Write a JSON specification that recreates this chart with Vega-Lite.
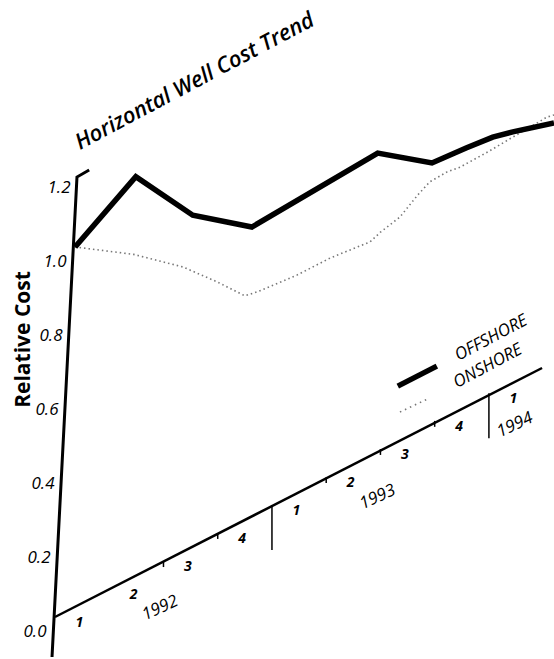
{
  "$schema": "https://vega.github.io/schema/vega-lite/v6.json",
  "width": 499,
  "height": 444,
  "autosize": {"type": "none"},
  "padding": {"left": 55, "top": 173, "right": 0, "bottom": 42},
  "background": "white",
  "config": {"view": {"stroke": null}, "font": "Open Sans"},
  "datasets": {
    "offshore": [
      {"quarter": 0.37, "cost": 1.0},
      {"quarter": 1.49, "cost": 1.19},
      {"quarter": 2.54, "cost": 1.086},
      {"quarter": 3.63, "cost": 1.054},
      {"quarter": 5.95, "cost": 1.254},
      {"quarter": 6.95, "cost": 1.227},
      {"quarter": 7.59, "cost": 1.268},
      {"quarter": 8.07, "cost": 1.297},
      {"quarter": 8.44, "cost": 1.311},
      {"quarter": 9.2, "cost": 1.335}
    ],
    "onshore": [
      {"quarter": 0.37, "cost": 1.0},
      {"quarter": 1.45, "cost": 0.98},
      {"quarter": 2.36, "cost": 0.946},
      {"quarter": 3.0, "cost": 0.905},
      {"quarter": 3.5, "cost": 0.868},
      {"quarter": 3.75, "cost": 0.88},
      {"quarter": 4.46, "cost": 0.924},
      {"quarter": 5.07, "cost": 0.97},
      {"quarter": 5.81, "cost": 1.014},
      {"quarter": 6.0, "cost": 1.04},
      {"quarter": 6.36, "cost": 1.081},
      {"quarter": 6.69, "cost": 1.141},
      {"quarter": 6.91, "cost": 1.176},
      {"quarter": 7.23, "cost": 1.203},
      {"quarter": 7.47, "cost": 1.216},
      {"quarter": 7.98, "cost": 1.257},
      {"quarter": 8.44, "cost": 1.297},
      {"quarter": 9.07, "cost": 1.351},
      {"quarter": 9.2, "cost": 1.357}
    ],
    "titleText": [
      {"quarter": 0.46, "cost": 1.262, "label": "Horizontal Well Cost Trend"}
    ],
    "yAxisLine": [
      {"quarter": -0.055, "cost": -0.108},
      {"quarter": 0.405, "cost": 1.189},
      {"quarter": 0.63, "cost": 1.208}
    ],
    "timeAxisLine": [
      {"quarter": 0, "cost": 0},
      {"quarter": 8.98, "cost": 0.673}
    ],
    "timeTicks": [
      {"quarter": 2, "cost": 0.151, "cost2": 0.135},
      {"quarter": 3, "cost": 0.227, "cost2": 0.211},
      {"quarter": 4, "cost": 0.303, "cost2": 0.181},
      {"quarter": 5, "cost": 0.378, "cost2": 0.362},
      {"quarter": 6, "cost": 0.454, "cost2": 0.438},
      {"quarter": 7, "cost": 0.53, "cost2": 0.514},
      {"quarter": 8, "cost": 0.605, "cost2": 0.483}
    ],
    "quarterLabels": [
      {"quarter": 0.45, "cost": -0.017, "label": "1"},
      {"quarter": 1.45, "cost": 0.059, "label": "2"},
      {"quarter": 2.45, "cost": 0.134, "label": "3"},
      {"quarter": 3.45, "cost": 0.21, "label": "4"},
      {"quarter": 4.45, "cost": 0.286, "label": "1"},
      {"quarter": 5.45, "cost": 0.361, "label": "2"},
      {"quarter": 6.45, "cost": 0.437, "label": "3"},
      {"quarter": 7.45, "cost": 0.513, "label": "4"},
      {"quarter": 8.45, "cost": 0.588, "label": "1"}
    ],
    "yearLabels": [
      {"quarter": 1.94, "cost": 0.024, "label": "1992"},
      {"quarter": 5.95, "cost": 0.324, "label": "1993"},
      {"quarter": 8.48, "cost": 0.519, "label": "1994"}
    ],
    "keyOffshore": [
      {"quarter": 6.32, "cost": 0.624},
      {"quarter": 7.04, "cost": 0.678}
    ],
    "keyOnshore": [
      {"quarter": 6.36, "cost": 0.554},
      {"quarter": 6.91, "cost": 0.592}
    ],
    "keyLabels": [
      {"quarter": 8.04, "cost": 0.754, "label": "OFFSHORE"},
      {"quarter": 7.98, "cost": 0.678, "label": "ONSHORE"}
    ]
  },
  "encoding": {
    "x": {
      "field": "quarter",
      "type": "quantitative",
      "scale": {"domain": [0, 9.2], "zero": false, "nice": false},
      "axis": null
    },
    "y": {
      "field": "cost",
      "type": "quantitative",
      "scale": {"domain": [0, 1.2], "nice": false},
      "axis": {
        "title": "Relative Cost",
        "titleFont": "Open Sans",
        "titleFontSize": 21,
        "titleFontWeight": "bold",
        "titleColor": "black",
        "titleX": -22,
        "titleY": 166,
        "domain": false,
        "ticks": false,
        "grid": false,
        "values": [0, 0.2, 0.4, 0.6, 0.8, 1.0, 1.2],
        "format": ".1f",
        "labelFont": "Open Sans",
        "labelFontStyle": "italic",
        "labelFontSize": 17,
        "labelColor": "black",
        "labelPadding": {
          "condition": [
            {"test": "datum.value > 1.1", "value": -15},
            {"test": "datum.value > 0.9", "value": -11},
            {"test": "datum.value > 0.7", "value": -7},
            {"test": "datum.value > 0.5", "value": -3},
            {"test": "datum.value > 0.3", "value": 1},
            {"test": "datum.value > 0.1", "value": 5}
          ],
          "value": 9
        },
        "labelOffset": 14,
        "labelBaseline": "middle",
        "labelBound": false,
        "labelOverlap": false,
        "labelFlush": false
      }
    }
  },
  "layer": [
    {
      "data": {"name": "yAxisLine"},
      "mark": {"type": "line", "color": "black", "strokeWidth": 3},
      "encoding": {}
    },
    {
      "data": {"name": "timeAxisLine"},
      "mark": {"type": "line", "color": "black", "strokeWidth": 2.5},
      "encoding": {}
    },
    {
      "data": {"name": "timeTicks"},
      "mark": {"type": "rule", "color": "black", "strokeWidth": 1.5},
      "encoding": {"y2": {"field": "cost2"}}
    },
    {
      "data": {"name": "onshore"},
      "mark": {"type": "line", "color": "#777777", "strokeWidth": 1.6, "strokeDash": [1.5, 3]},
      "encoding": {}
    },
    {
      "data": {"name": "offshore"},
      "mark": {"type": "line", "color": "black", "strokeWidth": 5.5, "strokeJoin": "miter"},
      "encoding": {}
    },
    {
      "data": {"name": "keyOffshore"},
      "mark": {"type": "line", "color": "black", "strokeWidth": 5.5},
      "encoding": {}
    },
    {
      "data": {"name": "keyOnshore"},
      "mark": {"type": "line", "color": "#777777", "strokeWidth": 1.6, "strokeDash": [1.5, 4]},
      "encoding": {}
    },
    {
      "data": {"name": "titleText"},
      "mark": {"type": "text", "font": "Open Sans", "fontStyle": "italic", "fontWeight": 600, "fontSize": 22, "color": "black", "angle": -28, "align": "left", "baseline": "alphabetic"},
      "encoding": {"text": {"field": "label"}}
    },
    {
      "data": {"name": "quarterLabels"},
      "mark": {"type": "text", "font": "Open Sans", "fontStyle": "italic", "fontWeight": "bold", "fontSize": 14, "color": "black"},
      "encoding": {"text": {"field": "label"}}
    },
    {
      "data": {"name": "yearLabels"},
      "mark": {"type": "text", "font": "Open Sans", "fontStyle": "italic", "fontSize": 17, "color": "black", "angle": -25},
      "encoding": {"text": {"field": "label"}}
    },
    {
      "data": {"name": "keyLabels"},
      "mark": {"type": "text", "font": "Open Sans", "fontStyle": "italic", "fontSize": 17, "color": "black", "angle": -28},
      "encoding": {"text": {"field": "label"}}
    }
  ]
}
